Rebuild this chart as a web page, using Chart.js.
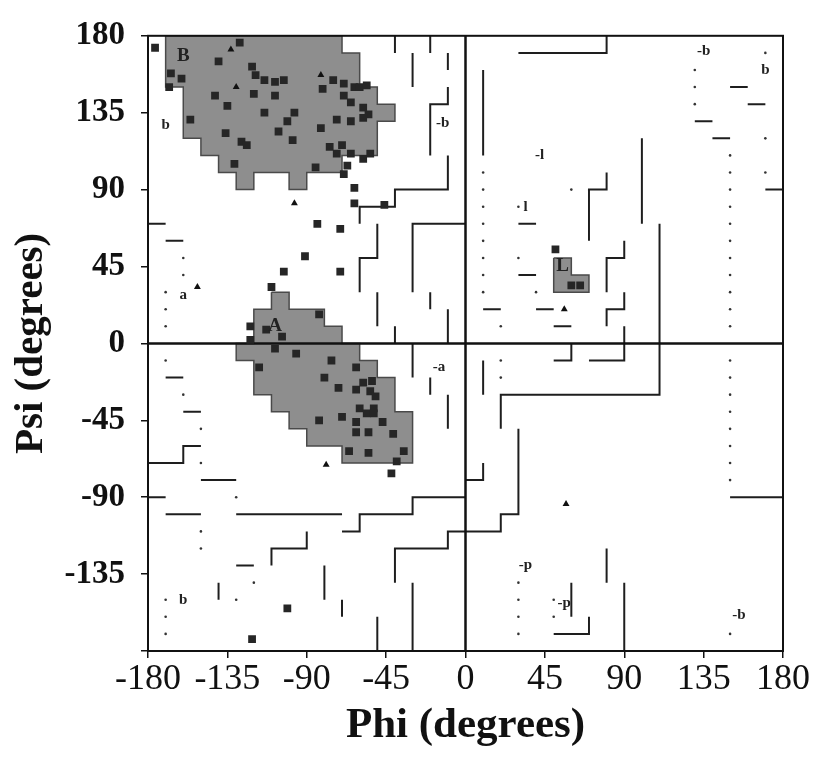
<!DOCTYPE html>
<html>
<head>
<meta charset="utf-8">
<script src="https://cdn.jsdelivr.net/npm/chart.js@4.4.1/dist/chart.umd.min.js"></script>
<style>
html, body { margin: 0; padding: 0; background: #fff; }
</style>
</head>
<body>
<canvas id="rama" width="815" height="762"></canvas>
<script>
// Tick labels on both axes (degrees)
const tickValues = [-180, -135, -90, -45, 0, 45, 90, 135, 180];

// Core regions (shaded), as [phi, psi] corners
const betaCore = [[-170,180],[-70,180],[-70,170],[-60,170],[-60,150],[-50,150],[-50,140],[-40,140],[-40,130],[-50,130],[-50,110],[-70,110],[-70,100],[-90,100],[-90,90],[-100,90],[-100,100],[-120,100],[-120,90],[-130,90],[-130,100],[-140,100],[-140,110],[-150,110],[-150,120],[-160,120],[-160,150],[-170,150],[-170,180]];
const alphaCore = [[-110,30],[-100,30],[-100,20],[-80,20],[-80,10],[-70,10],[-70,0],[-60,0],[-60,-10],[-50,-10],[-50,-20],[-40,-20],[-40,-40],[-30,-40],[-30,-70],[-70,-70],[-70,-60],[-90,-60],[-90,-50],[-100,-50],[-100,-40],[-110,-40],[-110,-30],[-120,-30],[-120,-10],[-130,-10],[-130,0],[-120,0],[-120,20],[-110,20],[-110,30]];
const lAlphaCore = [[50,50],[60,50],[60,40],[70,40],[70,30],[50,30],[50,50]];

// Boundaries of allowed / generously allowed regions
const allowedLines = [
  [[-40,180],[-40,170]], [[-20,180],[-20,170]], [[-30,170],[-30,150]], [[-10,170],[-10,160]],
  [[-10,150],[-10,140],[-20,140],[-20,110]],
  [[-10,110],[-10,90],[-40,90],[-40,80],[-60,80],[-60,70]],
  [[-50,70],[-50,50],[-60,50],[-60,30]],
  [[-30,30],[-30,70],[0,70]],
  [[-50,30],[-50,10]], [[-40,10],[-40,0]], [[-20,30],[-20,20]], [[-10,20],[-10,0]],
  [[-180,70],[-170,70]], [[-170,60],[-160,60]],
  [[-30,0],[-30,-20]], [[-20,-20],[-20,-30]], [[-10,-30],[-10,-50]],
  [[0,-90],[-30,-90],[-30,-100],[-60,-100],[-60,-110],[-70,-110]],
  [[-170,-20],[-160,-20]], [[-160,-40],[-150,-40]],
  [[-150,-60],[-160,-60],[-160,-70],[-180,-70]],
  [[-150,-80],[-130,-80]], [[-180,-90],[-170,-90]], [[-170,-100],[-150,-100]], [[-130,-100],[-70,-100]],
  [[-90,-110],[-90,-120],[-110,-120],[-110,-130]], [[-130,-130],[-120,-130]],
  [[-140,-140],[-140,-150]], [[-80,-130],[-80,-150]], [[-70,-150],[-70,-160]],
  [[-50,-160],[-50,-180]], [[-30,-140],[-30,-180]],
  [[-40,-140],[-40,-120],[-10,-120],[-10,-110],[0,-110]],
  [[30,170],[80,170],[80,180]], [[10,160],[10,110]],
  [[30,70],[40,70]], [[30,40],[40,40]], [[10,20],[20,20]], [[40,20],[50,20]], [[50,10],[60,10]],
  [[70,60],[70,90],[80,90],[80,100]], [[80,30],[80,50],[90,50],[90,60]], [[80,10],[80,20],[90,20],[90,30]],
  [[90,10],[90,-10],[70,-10]], [[100,120],[100,70]],
  [[110,70],[110,-30],[20,-30],[20,-50]],
  [[150,150],[160,150]], [[160,140],[170,140]], [[130,130],[140,130]], [[140,120],[150,120]], [[170,90],[180,90]],
  [[10,-10],[10,-30]], [[50,-10],[60,-10],[60,0]],
  [[30,-50],[30,-100],[20,-100],[20,-110],[0,-110]], [[10,-70],[10,-80],[0,-80]],
  [[150,-90],[180,-90]], [[60,-140],[60,-160]], [[80,-120],[80,-140]], [[90,-140],[90,-180]],
  [[50,-170],[70,-170],[70,-160]]
];
const zeroLines = [[[-180,0],[180,0]], [[0,-180],[0,180]]];

// Small grid dots marking region edges
const gridDots = [
  [-160,50],[-160,40],[-170,30],[-170,20],[-170,10],[-170,-10],[-160,-30],[-150,-50],[-150,-70],[-130,-90],
  [-150,-110],[-150,-120],[-120,-140],[-130,-150],[-170,-150],[-170,-160],[-170,-170],
  [130,160],[130,150],[130,140],[170,170],[170,120],[170,100],
  [10,100],[10,90],[10,80],[10,70],[10,60],[10,50],[10,40],[10,30],[30,80],[30,50],[40,30],[20,10],[60,90],
  [150,110],[150,100],[150,90],[150,80],[150,70],[150,60],[150,50],[150,40],[150,30],[150,20],[150,10],
  [150,-10],[150,-20],[150,-30],[150,-40],[150,-50],[150,-60],[150,-70],[150,-80],
  [20,-10],[20,-20],[30,-140],[30,-150],[30,-160],[30,-170],[50,-150],[50,-160],[150,-170]
];

// Residues (squares) and glycines (triangles), [phi, psi]
const residues = [
  [-176,173],[-128,176],[-140,165],[-167,158],[-161,155],[-168,150],[-121,162],[-119,157],[-114,154],[-108,153],[-103,154],
  [-142,145],[-120,146],[-108,145],[-135,139],[-114,135],[-97,135],[-156,131],[-101,130],[-106,124],[-136,123],[-98,119],
  [-127,118],[-124,116],[-131,105],[-85,103],
  [-81,149],[-75,154],[-69,152],[-69,145],[-65,141],[-63,150],[-60,150],[-56,151],[-58,138],[-55,134],[-58,132],[-73,131],
  [-65,130],[-82,126],[-77,115],[-70,116],[-73,111],[-65,111],[-58,108],[-54,111],[-67,104],[-69,99],
  [-63,91],[-63,82],[-46,81],[-84,70],[-71,67],[-91,51],[-103,42],[-71,42],[-110,33],[-83,17],[-122,10],[-113,8],[-104,4],[-122,2],
  [-108,-3],[-96,-6],[-76,-10],[-117,-14],[-62,-14],[-80,-20],[-72,-26],[-62,-27],[-58,-23],[-53,-22],[-54,-28],[-51,-31],
  [-60,-38],[-52,-38],[-56,-41],[-52,-41],[-83,-45],[-70,-43],[-62,-46],[-47,-46],[-62,-52],[-55,-52],[-41,-53],
  [-66,-63],[-55,-64],[-35,-63],[-39,-69],[-42,-76],
  [-101,-155],[-121,-173],
  [51,55],[60,34],[65,34]
];
const glycines = [[-133,172],[-130,150],[-82,157],[-97,82],[-152,33],[-79,-71],[56,20],[57,-94]];

// Region labels: [text, phi, psi]
const regionLabels = [
  ['B',-160,168], ['b',-170,128], ['-b',-13,129], ['a',-160,28], ['A',-108,10], ['-a',-15,-14], ['b',-160,-150],
  ['-b',135,171], ['b',170,160], ['-l',42,110], ['l',34,80], ['L',55,45], ['-p',34,-130], ['-p',56,-152], ['-b',155,-159]
];

const toPts = arr => arr.map(p => ({x: p[0], y: p[1]}));
const serif = '"Liberation Serif", "Times New Roman", serif';

const datasets = [];
[betaCore, alphaCore, lAlphaCore].forEach(poly => {
  datasets.push({
    data: toPts(poly), showLine: true, fill: 'shape', tension: 0,
    backgroundColor: '#8e8e8e', borderColor: '#4a4a4a', borderWidth: 1.5,
    pointRadius: 0, order: 10
  });
});
allowedLines.forEach(l => {
  datasets.push({
    data: toPts(l), showLine: true, fill: false, tension: 0,
    borderColor: '#1e1e1e', borderWidth: 2, pointRadius: 0, order: 5
  });
});
zeroLines.forEach(l => {
  datasets.push({
    data: toPts(l), showLine: true, fill: false,
    borderColor: '#111', borderWidth: 2.5, pointRadius: 0, order: 4
  });
});
datasets.push({
  data: toPts(gridDots), pointStyle: 'circle', pointRadius: 1.3,
  pointBackgroundColor: '#333', pointBorderWidth: 0, order: 3
});
datasets.push({
  data: toPts(residues), pointStyle: 'rect', pointRadius: 5.5,
  pointBackgroundColor: '#262626', pointBorderWidth: 0, order: 1
});
datasets.push({
  data: toPts(glycines), pointStyle: 'triangle', pointRadius: 4,
  pointBackgroundColor: '#111', pointBorderWidth: 0, order: 0
});

// frame round the plot area
const framePlugin = {
  id: 'frame',
  afterDatasetsDraw(chart) {
    const {ctx, chartArea: a} = chart;
    ctx.save();
    ctx.strokeStyle = '#111';
    ctx.lineWidth = 2;
    ctx.strokeRect(a.left, a.top, a.right - a.left, a.bottom - a.top);
    ctx.restore();
  }
};

// letters naming the regions
const labelPlugin = {
  id: 'regionLabels',
  afterDatasetsDraw(chart) {
    const {ctx, scales: {x, y}} = chart;
    ctx.save();
    ctx.fillStyle = '#222';
    ctx.textAlign = 'center';
    ctx.textBaseline = 'middle';
    regionLabels.forEach(([t, phi, psi]) => {
      ctx.font = (/[A-Z]/.test(t) ? 'bold 19px ' : 'bold 15px ') + serif;
      ctx.fillText(t, x.getPixelForValue(phi), y.getPixelForValue(psi));
    });
    ctx.restore();
  }
};

new Chart(document.getElementById('rama'), {
  type: 'scatter',
  data: {datasets: datasets},
  options: {
    responsive: false,
    animation: false,
    layout: {padding: {top: 20, right: 32, bottom: 0, left: 0}},
    plugins: {legend: {display: false}, tooltip: {enabled: false}},
    scales: {
      x: {
        type: 'linear', min: -180, max: 180,
        afterBuildTicks: s => { s.ticks = tickValues.map(v => ({value: v})); },
        afterFit: s => { s.height = 111; },
        ticks: {autoSkip: false, maxRotation: 0, padding: 0, color: '#111',
                font: {family: serif, size: 36}},
        grid: {drawOnChartArea: false, tickLength: 7, color: '#111', lineWidth: 1.5},
        border: {display: false},
        title: {display: true, text: 'Phi (degrees)', color: '#111',
                font: {family: serif, size: 43, weight: 'bold'}, padding: {top: 0, bottom: 10}}
      },
      y: {
        type: 'linear', min: -180, max: 180,
        afterBuildTicks: s => { s.ticks = tickValues.map(v => ({value: v})); },
        afterFit: s => { s.width = 148; },
        ticks: {autoSkip: false, padding: 16, color: '#111',
                font: {family: serif, size: 33, weight: 'bold'},
                callback: v => (v === -180 ? '' : v)},
        grid: {drawOnChartArea: false, tickLength: 7, color: '#111', lineWidth: 1.5},
        border: {display: false},
        title: {display: true, text: 'Psi (degrees)', color: '#111',
                font: {family: serif, size: 41, weight: 'bold'}, padding: {top: 7, bottom: 0}}
      }
    }
  },
  plugins: [framePlugin, labelPlugin]
});
</script>
</body>
</html>
